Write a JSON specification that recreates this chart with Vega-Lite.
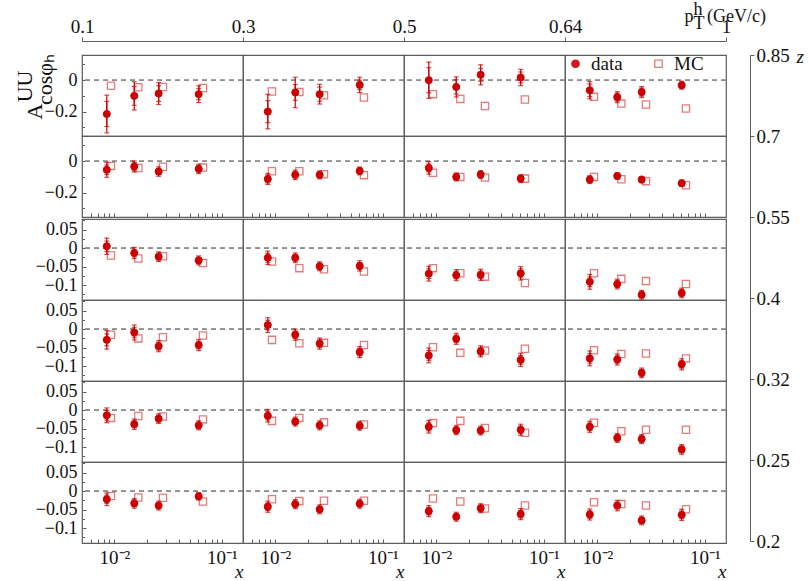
{
  "$schema": "https://vega.github.io/schema/vega-lite/v6.json",
  "background": "white",
  "padding": {"left": 13, "top": 0, "right": 4, "bottom": 4},
  "datasets": {
    "asym": [
      {"z": "0.7-0.85", "pt": "0.1-0.3", "x": 0.0085, "xmc": 0.0093, "A": -0.215, "tot": 0.12, "stat": 0.08, "mc": -0.036},
      {"z": "0.7-0.85", "pt": "0.1-0.3", "x": 0.0153, "xmc": 0.0167, "A": -0.1, "tot": 0.09, "stat": 0.06, "mc": -0.045},
      {"z": "0.7-0.85", "pt": "0.1-0.3", "x": 0.0258, "xmc": 0.0283, "A": -0.085, "tot": 0.07, "stat": 0.05, "mc": -0.043},
      {"z": "0.7-0.85", "pt": "0.1-0.3", "x": 0.0608, "xmc": 0.0666, "A": -0.089, "tot": 0.053, "stat": 0.035, "mc": -0.05},
      {"z": "0.7-0.85", "pt": "0.3-0.5", "x": 0.0085, "xmc": 0.0093, "A": -0.2, "tot": 0.11, "stat": 0.07, "mc": -0.072},
      {"z": "0.7-0.85", "pt": "0.3-0.5", "x": 0.0153, "xmc": 0.0167, "A": -0.078, "tot": 0.097, "stat": 0.05, "mc": -0.076},
      {"z": "0.7-0.85", "pt": "0.3-0.5", "x": 0.0258, "xmc": 0.0283, "A": -0.089, "tot": 0.063, "stat": 0.045, "mc": -0.096},
      {"z": "0.7-0.85", "pt": "0.3-0.5", "x": 0.0608, "xmc": 0.0666, "A": -0.03, "tot": 0.049, "stat": 0.03, "mc": -0.11},
      {"z": "0.7-0.85", "pt": "0.5-0.64", "x": 0.0085, "xmc": 0.0093, "A": 0.0, "tot": 0.115, "stat": 0.08, "mc": -0.089},
      {"z": "0.7-0.85", "pt": "0.5-0.64", "x": 0.0153, "xmc": 0.0167, "A": -0.043, "tot": 0.064, "stat": 0.045, "mc": -0.119},
      {"z": "0.7-0.85", "pt": "0.5-0.64", "x": 0.0258, "xmc": 0.0283, "A": 0.034, "tot": 0.064, "stat": 0.04, "mc": -0.164},
      {"z": "0.7-0.85", "pt": "0.5-0.64", "x": 0.0608, "xmc": 0.0666, "A": 0.017, "tot": 0.052, "stat": 0.035, "mc": -0.123},
      {"z": "0.7-0.85", "pt": "0.64-1", "x": 0.0085, "xmc": 0.0093, "A": -0.064, "tot": 0.055, "stat": 0.04, "mc": -0.106},
      {"z": "0.7-0.85", "pt": "0.64-1", "x": 0.0153, "xmc": 0.0167, "A": -0.108, "tot": 0.035, "stat": 0.025, "mc": -0.149},
      {"z": "0.7-0.85", "pt": "0.64-1", "x": 0.0258, "xmc": 0.0283, "A": -0.076, "tot": 0.035, "stat": 0.025, "mc": -0.155},
      {"z": "0.7-0.85", "pt": "0.64-1", "x": 0.0608, "xmc": 0.0666, "A": -0.032, "tot": 0.025, "stat": 0.018, "mc": -0.18},

      {"z": "0.55-0.7", "pt": "0.1-0.3", "x": 0.0085, "xmc": 0.0093, "A": -0.055, "tot": 0.048, "stat": 0.03, "mc": -0.03},
      {"z": "0.55-0.7", "pt": "0.1-0.3", "x": 0.0153, "xmc": 0.0167, "A": -0.034, "tot": 0.035, "stat": 0.025, "mc": -0.043},
      {"z": "0.55-0.7", "pt": "0.1-0.3", "x": 0.0258, "xmc": 0.0283, "A": -0.066, "tot": 0.03, "stat": 0.02, "mc": -0.036},
      {"z": "0.55-0.7", "pt": "0.1-0.3", "x": 0.0608, "xmc": 0.0666, "A": -0.049, "tot": 0.03, "stat": 0.02, "mc": -0.041},
      {"z": "0.55-0.7", "pt": "0.3-0.5", "x": 0.0085, "xmc": 0.0093, "A": -0.113, "tot": 0.035, "stat": 0.025, "mc": -0.064},
      {"z": "0.55-0.7", "pt": "0.3-0.5", "x": 0.0153, "xmc": 0.0167, "A": -0.087, "tot": 0.03, "stat": 0.02, "mc": -0.064},
      {"z": "0.55-0.7", "pt": "0.3-0.5", "x": 0.0258, "xmc": 0.0283, "A": -0.087, "tot": 0.025, "stat": 0.018, "mc": -0.083},
      {"z": "0.55-0.7", "pt": "0.3-0.5", "x": 0.0608, "xmc": 0.0666, "A": -0.062, "tot": 0.025, "stat": 0.018, "mc": -0.089},
      {"z": "0.55-0.7", "pt": "0.5-0.64", "x": 0.0085, "xmc": 0.0093, "A": -0.043, "tot": 0.04, "stat": 0.025, "mc": -0.074},
      {"z": "0.55-0.7", "pt": "0.5-0.64", "x": 0.0153, "xmc": 0.0167, "A": -0.1, "tot": 0.025, "stat": 0.018, "mc": -0.1},
      {"z": "0.55-0.7", "pt": "0.5-0.64", "x": 0.0258, "xmc": 0.0283, "A": -0.085, "tot": 0.025, "stat": 0.018, "mc": -0.104},
      {"z": "0.55-0.7", "pt": "0.5-0.64", "x": 0.0608, "xmc": 0.0666, "A": -0.111, "tot": 0.025, "stat": 0.018, "mc": -0.111},
      {"z": "0.55-0.7", "pt": "0.64-1", "x": 0.0085, "xmc": 0.0093, "A": -0.117, "tot": 0.025, "stat": 0.018, "mc": -0.1},
      {"z": "0.55-0.7", "pt": "0.64-1", "x": 0.0153, "xmc": 0.0167, "A": -0.094, "tot": 0.02, "stat": 0.015, "mc": -0.115},
      {"z": "0.55-0.7", "pt": "0.64-1", "x": 0.0258, "xmc": 0.0283, "A": -0.117, "tot": 0.02, "stat": 0.015, "mc": -0.127},
      {"z": "0.55-0.7", "pt": "0.64-1", "x": 0.0608, "xmc": 0.0666, "A": -0.14, "tot": 0.02, "stat": 0.015, "mc": -0.153},

      {"z": "0.4-0.55", "pt": "0.1-0.3", "x": 0.0085, "xmc": 0.0093, "A": 0.005, "tot": 0.022, "stat": 0.014, "mc": -0.02},
      {"z": "0.4-0.55", "pt": "0.1-0.3", "x": 0.0153, "xmc": 0.0167, "A": -0.013, "tot": 0.015, "stat": 0.01, "mc": -0.028},
      {"z": "0.4-0.55", "pt": "0.1-0.3", "x": 0.0258, "xmc": 0.0283, "A": -0.023, "tot": 0.013, "stat": 0.009, "mc": -0.022},
      {"z": "0.4-0.55", "pt": "0.1-0.3", "x": 0.0608, "xmc": 0.0666, "A": -0.033, "tot": 0.012, "stat": 0.008, "mc": -0.04},
      {"z": "0.4-0.55", "pt": "0.3-0.5", "x": 0.0085, "xmc": 0.0093, "A": -0.026, "tot": 0.018, "stat": 0.012, "mc": -0.036},
      {"z": "0.4-0.55", "pt": "0.3-0.5", "x": 0.0153, "xmc": 0.0167, "A": -0.026, "tot": 0.013, "stat": 0.009, "mc": -0.054},
      {"z": "0.4-0.55", "pt": "0.3-0.5", "x": 0.0258, "xmc": 0.0283, "A": -0.049, "tot": 0.012, "stat": 0.008, "mc": -0.057},
      {"z": "0.4-0.55", "pt": "0.3-0.5", "x": 0.0608, "xmc": 0.0666, "A": -0.048, "tot": 0.014, "stat": 0.009, "mc": -0.063},
      {"z": "0.4-0.55", "pt": "0.5-0.64", "x": 0.0085, "xmc": 0.0093, "A": -0.069, "tot": 0.02, "stat": 0.013, "mc": -0.054},
      {"z": "0.4-0.55", "pt": "0.5-0.64", "x": 0.0153, "xmc": 0.0167, "A": -0.073, "tot": 0.015, "stat": 0.01, "mc": -0.068},
      {"z": "0.4-0.55", "pt": "0.5-0.64", "x": 0.0258, "xmc": 0.0283, "A": -0.072, "tot": 0.015, "stat": 0.01, "mc": -0.077},
      {"z": "0.4-0.55", "pt": "0.5-0.64", "x": 0.0608, "xmc": 0.0666, "A": -0.068, "tot": 0.018, "stat": 0.012, "mc": -0.094},
      {"z": "0.4-0.55", "pt": "0.64-1", "x": 0.0085, "xmc": 0.0093, "A": -0.091, "tot": 0.02, "stat": 0.013, "mc": -0.068},
      {"z": "0.4-0.55", "pt": "0.64-1", "x": 0.0153, "xmc": 0.0167, "A": -0.097, "tot": 0.013, "stat": 0.009, "mc": -0.083},
      {"z": "0.4-0.55", "pt": "0.64-1", "x": 0.0258, "xmc": 0.0283, "A": -0.126, "tot": 0.012, "stat": 0.008, "mc": -0.089},
      {"z": "0.4-0.55", "pt": "0.64-1", "x": 0.0608, "xmc": 0.0666, "A": -0.121, "tot": 0.013, "stat": 0.009, "mc": -0.097},

      {"z": "0.32-0.4", "pt": "0.1-0.3", "x": 0.0085, "xmc": 0.0093, "A": -0.029, "tot": 0.025, "stat": 0.016, "mc": -0.015},
      {"z": "0.32-0.4", "pt": "0.1-0.3", "x": 0.0153, "xmc": 0.0167, "A": -0.009, "tot": 0.02, "stat": 0.013, "mc": -0.025},
      {"z": "0.32-0.4", "pt": "0.1-0.3", "x": 0.0258, "xmc": 0.0283, "A": -0.046, "tot": 0.015, "stat": 0.01, "mc": -0.022},
      {"z": "0.32-0.4", "pt": "0.1-0.3", "x": 0.0608, "xmc": 0.0666, "A": -0.043, "tot": 0.015, "stat": 0.01, "mc": -0.017},
      {"z": "0.32-0.4", "pt": "0.3-0.5", "x": 0.0085, "xmc": 0.0093, "A": 0.011, "tot": 0.02, "stat": 0.013, "mc": -0.029},
      {"z": "0.32-0.4", "pt": "0.3-0.5", "x": 0.0153, "xmc": 0.0167, "A": -0.015, "tot": 0.015, "stat": 0.01, "mc": -0.038},
      {"z": "0.32-0.4", "pt": "0.3-0.5", "x": 0.0258, "xmc": 0.0283, "A": -0.039, "tot": 0.015, "stat": 0.01, "mc": -0.037},
      {"z": "0.32-0.4", "pt": "0.3-0.5", "x": 0.0608, "xmc": 0.0666, "A": -0.062, "tot": 0.015, "stat": 0.01, "mc": -0.043},
      {"z": "0.32-0.4", "pt": "0.5-0.64", "x": 0.0085, "xmc": 0.0093, "A": -0.071, "tot": 0.02, "stat": 0.013, "mc": -0.049},
      {"z": "0.32-0.4", "pt": "0.5-0.64", "x": 0.0153, "xmc": 0.0167, "A": -0.026, "tot": 0.015, "stat": 0.01, "mc": -0.064},
      {"z": "0.32-0.4", "pt": "0.5-0.64", "x": 0.0258, "xmc": 0.0283, "A": -0.06, "tot": 0.015, "stat": 0.01, "mc": -0.058},
      {"z": "0.32-0.4", "pt": "0.5-0.64", "x": 0.0608, "xmc": 0.0666, "A": -0.083, "tot": 0.018, "stat": 0.012, "mc": -0.053},
      {"z": "0.32-0.4", "pt": "0.64-1", "x": 0.0085, "xmc": 0.0093, "A": -0.079, "tot": 0.02, "stat": 0.013, "mc": -0.057},
      {"z": "0.32-0.4", "pt": "0.64-1", "x": 0.0153, "xmc": 0.0167, "A": -0.082, "tot": 0.015, "stat": 0.01, "mc": -0.067},
      {"z": "0.32-0.4", "pt": "0.64-1", "x": 0.0258, "xmc": 0.0283, "A": -0.118, "tot": 0.013, "stat": 0.009, "mc": -0.066},
      {"z": "0.32-0.4", "pt": "0.64-1", "x": 0.0608, "xmc": 0.0666, "A": -0.095, "tot": 0.015, "stat": 0.01, "mc": -0.079},

      {"z": "0.25-0.32", "pt": "0.1-0.3", "x": 0.0085, "xmc": 0.0093, "A": -0.014, "tot": 0.02, "stat": 0.013, "mc": -0.021},
      {"z": "0.25-0.32", "pt": "0.1-0.3", "x": 0.0153, "xmc": 0.0167, "A": -0.038, "tot": 0.014, "stat": 0.009, "mc": -0.016},
      {"z": "0.25-0.32", "pt": "0.1-0.3", "x": 0.0258, "xmc": 0.0283, "A": -0.023, "tot": 0.013, "stat": 0.009, "mc": -0.017},
      {"z": "0.25-0.32", "pt": "0.1-0.3", "x": 0.0608, "xmc": 0.0666, "A": -0.041, "tot": 0.012, "stat": 0.008, "mc": -0.025},
      {"z": "0.25-0.32", "pt": "0.3-0.5", "x": 0.0085, "xmc": 0.0093, "A": -0.015, "tot": 0.017, "stat": 0.011, "mc": -0.029},
      {"z": "0.25-0.32", "pt": "0.3-0.5", "x": 0.0153, "xmc": 0.0167, "A": -0.031, "tot": 0.012, "stat": 0.008, "mc": -0.021},
      {"z": "0.25-0.32", "pt": "0.3-0.5", "x": 0.0258, "xmc": 0.0283, "A": -0.041, "tot": 0.012, "stat": 0.008, "mc": -0.033},
      {"z": "0.25-0.32", "pt": "0.3-0.5", "x": 0.0608, "xmc": 0.0666, "A": -0.042, "tot": 0.012, "stat": 0.008, "mc": -0.039},
      {"z": "0.25-0.32", "pt": "0.5-0.64", "x": 0.0085, "xmc": 0.0093, "A": -0.045, "tot": 0.017, "stat": 0.011, "mc": -0.035},
      {"z": "0.25-0.32", "pt": "0.5-0.64", "x": 0.0153, "xmc": 0.0167, "A": -0.054, "tot": 0.012, "stat": 0.008, "mc": -0.029},
      {"z": "0.25-0.32", "pt": "0.5-0.64", "x": 0.0258, "xmc": 0.0283, "A": -0.055, "tot": 0.012, "stat": 0.008, "mc": -0.048},
      {"z": "0.25-0.32", "pt": "0.5-0.64", "x": 0.0608, "xmc": 0.0666, "A": -0.053, "tot": 0.015, "stat": 0.01, "mc": -0.061},
      {"z": "0.25-0.32", "pt": "0.64-1", "x": 0.0085, "xmc": 0.0093, "A": -0.045, "tot": 0.015, "stat": 0.01, "mc": -0.034},
      {"z": "0.25-0.32", "pt": "0.64-1", "x": 0.0153, "xmc": 0.0167, "A": -0.075, "tot": 0.012, "stat": 0.008, "mc": -0.057},
      {"z": "0.25-0.32", "pt": "0.64-1", "x": 0.0258, "xmc": 0.0283, "A": -0.078, "tot": 0.012, "stat": 0.008, "mc": -0.053},
      {"z": "0.25-0.32", "pt": "0.64-1", "x": 0.0608, "xmc": 0.0666, "A": -0.106, "tot": 0.013, "stat": 0.009, "mc": -0.053},

      {"z": "0.2-0.25", "pt": "0.1-0.3", "x": 0.0085, "xmc": 0.0093, "A": -0.022, "tot": 0.017, "stat": 0.011, "mc": -0.013},
      {"z": "0.2-0.25", "pt": "0.1-0.3", "x": 0.0153, "xmc": 0.0167, "A": -0.033, "tot": 0.013, "stat": 0.009, "mc": -0.017},
      {"z": "0.2-0.25", "pt": "0.1-0.3", "x": 0.0258, "xmc": 0.0283, "A": -0.039, "tot": 0.012, "stat": 0.008, "mc": -0.018},
      {"z": "0.2-0.25", "pt": "0.1-0.3", "x": 0.0608, "xmc": 0.0666, "A": -0.014, "tot": 0.01, "stat": 0.007, "mc": -0.028},
      {"z": "0.2-0.25", "pt": "0.3-0.5", "x": 0.0085, "xmc": 0.0093, "A": -0.042, "tot": 0.015, "stat": 0.01, "mc": -0.022},
      {"z": "0.2-0.25", "pt": "0.3-0.5", "x": 0.0153, "xmc": 0.0167, "A": -0.035, "tot": 0.012, "stat": 0.008, "mc": -0.027},
      {"z": "0.2-0.25", "pt": "0.3-0.5", "x": 0.0258, "xmc": 0.0283, "A": -0.049, "tot": 0.012, "stat": 0.008, "mc": -0.026},
      {"z": "0.2-0.25", "pt": "0.3-0.5", "x": 0.0608, "xmc": 0.0666, "A": -0.034, "tot": 0.012, "stat": 0.008, "mc": -0.026},
      {"z": "0.2-0.25", "pt": "0.5-0.64", "x": 0.0085, "xmc": 0.0093, "A": -0.054, "tot": 0.015, "stat": 0.01, "mc": -0.02},
      {"z": "0.2-0.25", "pt": "0.5-0.64", "x": 0.0153, "xmc": 0.0167, "A": -0.069, "tot": 0.012, "stat": 0.008, "mc": -0.028},
      {"z": "0.2-0.25", "pt": "0.5-0.64", "x": 0.0258, "xmc": 0.0283, "A": -0.046, "tot": 0.012, "stat": 0.008, "mc": -0.047},
      {"z": "0.2-0.25", "pt": "0.5-0.64", "x": 0.0608, "xmc": 0.0666, "A": -0.062, "tot": 0.015, "stat": 0.01, "mc": -0.039},
      {"z": "0.2-0.25", "pt": "0.64-1", "x": 0.0085, "xmc": 0.0093, "A": -0.063, "tot": 0.015, "stat": 0.01, "mc": -0.03},
      {"z": "0.2-0.25", "pt": "0.64-1", "x": 0.0153, "xmc": 0.0167, "A": -0.039, "tot": 0.014, "stat": 0.009, "mc": -0.035},
      {"z": "0.2-0.25", "pt": "0.64-1", "x": 0.0258, "xmc": 0.0283, "A": -0.079, "tot": 0.012, "stat": 0.008, "mc": -0.039},
      {"z": "0.2-0.25", "pt": "0.64-1", "x": 0.0608, "xmc": 0.0666, "A": -0.064, "tot": 0.015, "stat": 0.01, "mc": -0.049}
    ],
    "ptEdges": [{"edge": "0.1"}, {"edge": "0.3"}, {"edge": "0.5"}, {"edge": "0.64"}, {"edge": "1"}],
    "zEdges": [{"edge": "0.85"}, {"edge": "0.7"}, {"edge": "0.55"}, {"edge": "0.4"}, {"edge": "0.32"}, {"edge": "0.25"}, {"edge": "0.2"}]
  },
  "spacing": 1,
  "vconcat": [
    {
      "data": {"name": "ptEdges"},
      "width": 644,
      "height": 1,
      "view": {"stroke": null},
      "mark": {"type": "point", "opacity": 0},
      "encoding": {
        "x": {
          "field": "edge",
          "type": "ordinal",
          "scale": {"type": "point", "padding": 0, "domain": ["0.1", "0.3", "0.5", "0.64", "1"]},
          "axis": {
            "orient": "top", "labelAngle": 0, "tickSize": 4, "labelPadding": 1, "domain": true, "labelOverlap": false,
            "title": ["\u200b\u00a0\u00a0h", "p\u00a0\u00a0\u00a0(GeV/c)", "\u200b\u00a0\u00a0T"],
            "titleFontSize": 18, "titleLineHeight": 7, "titleAlign": "left", "titleBaseline": "alphabetic",
            "titleX": 602, "titleY": -27
          }
        }
      }
    },
    {
      "spacing": 18,
      "hconcat": [
        {
          "spacing": 0,
          "resolve": {
            "scale": {"shape": "independent", "fill": "independent", "stroke": "independent"},
            "legend": {"shape": "independent", "fill": "independent", "stroke": "independent"}
          },
          "vconcat": [
            {
              "data": {"name": "asym"},
              "transform": [{"filter": {"field": "z", "oneOf": ["0.7-0.85", "0.55-0.7"]}}],
              "spacing": 0,
              "bounds": "flush",
              "facet": {
                "row": {
                  "field": "z", "type": "nominal", "sort": ["0.7-0.85", "0.55-0.7"],
                  "title": ["UU\u00a0\u00a0\u00a0\u200b", "A\u00a0\u00a0\u00a0\u00a0\u00a0\u00a0\u00a0\u00a0\u00a0\u200b", "cosφₕ"],
                  "header": {"labels": false, "titleOrient": "left", "titleAnchor": "end", "titleAlign": "right", "titleFontSize": 22, "titleLineHeight": 10, "titlePadding": -23}
                },
                "column": {
                  "field": "pt", "type": "nominal", "sort": ["0.1-0.3", "0.3-0.5", "0.5-0.64", "0.64-1"],
                  "title": null, "header": {"labels": false}
                }
              },
              "spec": {
                "width": 161,
                "height": 81,
                "resolve": {"axis": {"y": "independent"}},
                "layer": [
                  {
                    "mark": {"type": "rule", "color": "#8c8c8c", "strokeDash": [5, 4], "strokeWidth": 1},
                    "encoding": {
                      "y": {
                        "datum": 0, "type": "quantitative",
                        "scale": {"domain": [-0.355, 0.16], "nice": false, "zero": false},
                        "axis": {"orient": "left", "values": [0, -0.2], "format": "~g", "labelOverlap": false, "labelFontSize": 18, "tickSize": -4, "labelPadding": 9, "domain": false, "title": null}
                      }
                    }
                  },
                  {
                    "mark": {"type": "point", "size": 52, "strokeWidth": 1.3, "opacity": 0.9},
                    "encoding": {
                      "x": {
                        "field": "xmc", "type": "quantitative",
                        "scale": {"type": "log", "domain": [0.005, 0.157], "nice": false},
                        "axis": {"values": [0.006, 0.007, 0.008, 0.009, 0.01, 0.02, 0.03, 0.04, 0.05, 0.06, 0.07, 0.08, 0.09, 0.1], "labels": false, "labelOverlap": false, "tickSize": -4, "domain": false, "title": null}
                      },
                      "y": {"field": "mc", "type": "quantitative", "axis": null},
                      "shape": {"datum": "MC", "type": "nominal", "scale": {"domain": ["data", "MC"], "range": ["circle", "square"]}, "legend": {"title": null}},
                      "fill": {"datum": "MC", "type": "nominal", "scale": {"domain": ["data", "MC"], "range": ["#cc0000", "transparent"]}, "legend": {"title": null}},
                      "stroke": {"datum": "MC", "type": "nominal", "scale": {"domain": ["data", "MC"], "range": ["#cc0000", "#e46c6c"]}, "legend": {"title": null}}
                    }
                  },
                  {
                    "mark": {"type": "errorbar", "ticks": {"size": 5}, "color": "#cc0000", "thickness": 1.2},
                    "encoding": {
                      "x": {"field": "x", "type": "quantitative", "axis": {"title": null, "labelOverlap": false}},
                      "y": {"field": "A", "type": "quantitative", "axis": null},
                      "yError": {"field": "tot"}
                    }
                  },
                  {
                    "mark": {"type": "errorbar", "ticks": {"size": 5}, "color": "#cc0000", "thickness": 1.2},
                    "encoding": {
                      "x": {"field": "x", "type": "quantitative", "axis": {"title": null, "labelOverlap": false}},
                      "y": {"field": "A", "type": "quantitative", "axis": null},
                      "yError": {"field": "stat"}
                    }
                  },
                  {
                    "mark": {"type": "point", "size": 50, "strokeWidth": 1, "opacity": 1},
                    "encoding": {
                      "x": {"field": "x", "type": "quantitative", "axis": {"title": null, "labelOverlap": false}},
                      "y": {"field": "A", "type": "quantitative", "axis": {"orient": "left", "values": [0.1, -0.1, -0.3], "labels": false, "tickSize": -2.5, "domain": false, "title": null}},
                      "shape": {"datum": "data", "type": "nominal", "legend": {"title": null}},
                      "fill": {"datum": "data", "type": "nominal", "legend": {"title": null}},
                      "stroke": {"datum": "data", "type": "nominal", "legend": {"title": null}}
                    }
                  }
                ]
              }
            },
            {
              "data": {"name": "asym"},
              "transform": [{"filter": {"field": "z", "oneOf": ["0.4-0.55", "0.32-0.4", "0.25-0.32", "0.2-0.25"]}}],
              "spacing": 0,
              "bounds": "flush",
              "facet": {
                "row": {
                  "field": "z", "type": "nominal", "sort": ["0.4-0.55", "0.32-0.4", "0.25-0.32", "0.2-0.25"],
                  "title": null, "header": {"labels": false}
                },
                "column": {
                  "field": "pt", "type": "nominal", "sort": ["0.1-0.3", "0.3-0.5", "0.5-0.64", "0.64-1"],
                  "title": null, "header": {"labels": false}
                }
              },
              "spec": {
                "width": 161,
                "height": 81,
                "resolve": {"axis": {"y": "independent"}},
                "layer": [
                  {
                    "mark": {"type": "rule", "color": "#8c8c8c", "strokeDash": [5, 4], "strokeWidth": 1},
                    "encoding": {
                      "y": {
                        "datum": 0, "type": "quantitative",
                        "scale": {"domain": [-0.14, 0.0786], "nice": false, "zero": false},
                        "axis": {"orient": "left", "values": [0.05, -0.05], "format": "~g", "labelOverlap": false, "labelFontSize": 18, "tickSize": -4, "labelPadding": 9, "domain": false, "title": null}
                      }
                    }
                  },
                  {
                    "mark": {"type": "point", "size": 52, "strokeWidth": 1.3, "opacity": 0.9},
                    "encoding": {
                      "x": {
                        "field": "xmc", "type": "quantitative",
                        "scale": {"type": "log", "domain": [0.005, 0.157], "nice": false},
                        "axis": {
                          "values": [0.006, 0.007, 0.008, 0.009, 0.01, 0.02, 0.03, 0.04, 0.05, 0.06, 0.07, 0.08, 0.09, 0.1],
                          "labelExpr": "datum.value === 0.01 ? '10⁻²' : (datum.value === 0.1 ? '10⁻¹' : '')",
                          "labelOverlap": false,
                          "tickSize": -4, "labelPadding": 9, "domain": false,
                          "title": "x", "titleFontStyle": "italic", "titleAnchor": "end", "titlePadding": -5
                        }
                      },
                      "y": {"field": "mc", "type": "quantitative", "axis": {"orient": "left", "values": [0, -0.1], "format": "~g", "labelOverlap": false, "labelFontSize": 18, "tickSize": -4, "labelPadding": 9, "domain": false, "title": null}},
                      "shape": {"datum": "MC", "type": "nominal", "scale": {"domain": ["data", "MC"], "range": ["circle", "square"]}, "legend": null},
                      "fill": {"datum": "MC", "type": "nominal", "scale": {"domain": ["data", "MC"], "range": ["#cc0000", "transparent"]}, "legend": null},
                      "stroke": {"datum": "MC", "type": "nominal", "scale": {"domain": ["data", "MC"], "range": ["#cc0000", "#e46c6c"]}, "legend": null}
                    }
                  },
                  {
                    "mark": {"type": "errorbar", "ticks": {"size": 5}, "color": "#cc0000", "thickness": 1.2},
                    "encoding": {
                      "x": {"field": "x", "type": "quantitative", "axis": {"title": "x", "labelOverlap": false}},
                      "y": {"field": "A", "type": "quantitative", "axis": null},
                      "yError": {"field": "tot"}
                    }
                  },
                  {
                    "mark": {"type": "errorbar", "ticks": {"size": 5}, "color": "#cc0000", "thickness": 1.2},
                    "encoding": {
                      "x": {"field": "x", "type": "quantitative", "axis": {"title": "x", "labelOverlap": false}},
                      "y": {"field": "A", "type": "quantitative", "axis": null},
                      "yError": {"field": "stat"}
                    }
                  },
                  {
                    "mark": {"type": "point", "size": 50, "strokeWidth": 1, "opacity": 1},
                    "encoding": {
                      "x": {"field": "x", "type": "quantitative", "axis": {"title": "x", "labelOverlap": false}},
                      "y": {"field": "A", "type": "quantitative", "axis": {"orient": "left", "values": [0.075, 0.025, -0.025, -0.075, -0.125], "labels": false, "tickSize": -2.5, "domain": false, "title": null}},
                      "shape": {"datum": "data", "type": "nominal", "legend": null},
                      "fill": {"datum": "data", "type": "nominal", "legend": null},
                      "stroke": {"datum": "data", "type": "nominal", "legend": null}
                    }
                  }
                ]
              }
            }
          ]
        },
        {
          "data": {"name": "zEdges"},
          "width": 1,
          "height": 486,
          "view": {"stroke": null},
          "mark": {"type": "point", "opacity": 0},
          "encoding": {
            "y": {
              "field": "edge",
              "type": "ordinal",
              "scale": {"type": "point", "padding": 0, "domain": ["0.85", "0.7", "0.55", "0.4", "0.32", "0.25", "0.2"]},
              "axis": {
                "orient": "right", "tickSize": 4, "labelPadding": 2, "domain": true, "labelOverlap": false,
                "title": "z", "titleAngle": 0, "titleFontStyle": "italic", "titleAlign": "left", "titleBaseline": "alphabetic",
                "titleX": 46, "titleY": 7
              }
            }
          }
        }
      ]
    }
  ],
  "config": {
    "font": "Liberation Serif",
    "view": {"stroke": "#5e5e5e", "strokeWidth": 1.2},
    "axis": {
      "labelFont": "Liberation Serif", "labelFontSize": 19, "labelColor": "#111", "labelOverlap": false,
      "titleFont": "Liberation Serif", "titleFontSize": 19, "titleFontWeight": "normal", "titleColor": "#111",
      "tickColor": "#5e5e5e", "domainColor": "#5e5e5e", "grid": false
    },
    "header": {"titleFont": "Liberation Serif", "titleFontSize": 19, "titleFontWeight": "normal", "titleColor": "#111"},
    "legend": {
      "orient": "none", "legendX": 484, "legendY": -1, "direction": "horizontal",
      "labelFont": "Liberation Serif", "labelFontSize": 19, "labelColor": "#111",
      "symbolSize": 55, "symbolStrokeWidth": 1.3, "labelOffset": 6, "columnPadding": 26, "padding": 0
    }
  }
}
